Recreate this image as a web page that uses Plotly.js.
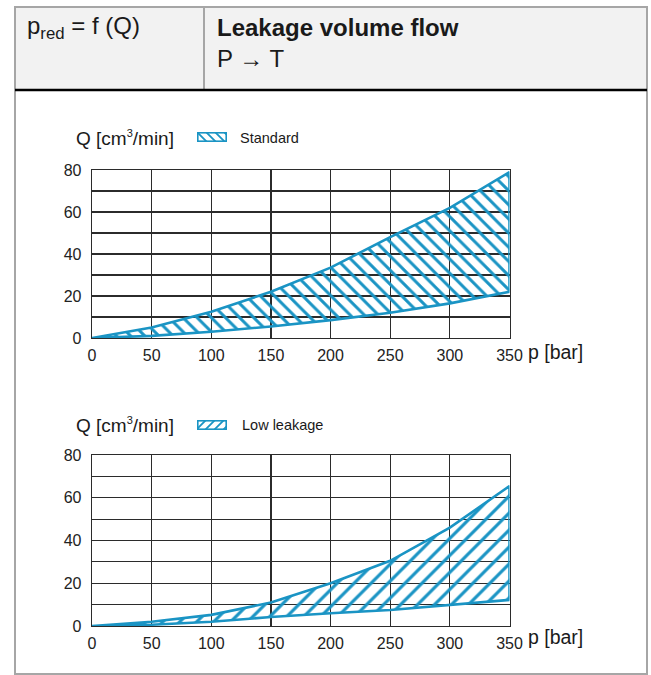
<!DOCTYPE html>
<html>
<head>
<meta charset="utf-8">
<script src="https://cdn.plot.ly/plotly-3.0.1.min.js"></script>
<style>html,body{margin:0;padding:0;background:#fff;}#chart{width:651px;height:675px;}</style>
</head>
<body>
<div id="chart"></div>
<script>
// ---- data ----
const pressure = [0, 50, 100, 150, 200, 250, 300, 350];          // p [bar]
const standardUpper = [0, 5, 12.5, 22, 33.5, 48, 62, 79];        // Q [cm3/min]
const standardLower = [0, 1, 3, 5.5, 8.5, 12, 16.5, 22];
const lowLeakUpper = [0, 2, 5.2, 11, 20, 30.5, 46, 65.5];
const lowLeakLower = [0, 0.6, 2, 4.2, 6, 7.5, 10, 12.2];
const xTickVals = [0, 50, 100, 150, 200, 250, 300, 350];
const yTickVals = [0, 20, 40, 60, 80];
const seriesNames = ['Standard', 'Low leakage'];

// ---- helpers ----
const W = 651, H = 675;
const X = px => px / W;
const Y = py => 1 - py / H;
const BLUE = '#1a94c4';
const FONT = 'Liberation Sans, Arial, sans-serif';

function band(upper, lower) {
  return {
    x: pressure.concat(pressure.slice().reverse()),
    y: upper.concat(lower.slice().reverse())
  };
}

const b1 = band(standardUpper, standardLower);
const b2 = band(lowLeakUpper, lowLeakLower);

const traces = [
  {
    type: 'scatter', mode: 'lines', name: seriesNames[0],
    x: b1.x, y: b1.y, xaxis: 'x', yaxis: 'y',
    fill: 'toself', fillcolor: 'rgba(0,0,0,0)',
    fillpattern: {shape: '\\', fgcolor: BLUE, bgcolor: 'rgba(0,0,0,0)', size: 10, solidity: 0.3},
    line: {color: BLUE, width: 2.6}, showlegend: false, hoverinfo: 'skip'
  },
  {
    type: 'scatter', mode: 'lines', name: seriesNames[1],
    x: b2.x, y: b2.y, xaxis: 'x2', yaxis: 'y2',
    fill: 'toself', fillcolor: 'rgba(0,0,0,0)',
    fillpattern: {shape: '/', fgcolor: BLUE, bgcolor: 'rgba(0,0,0,0)', size: 12, solidity: 0.26},
    line: {color: BLUE, width: 2.6}, showlegend: false, hoverinfo: 'skip'
  }
];

function xAxis(anchor) {
  return {
    domain: [X(92), X(509.5)], anchor: anchor, range: [0, 350],
    tickvals: xTickVals, ticktext: xTickVals.map(String),
    showgrid: true, gridcolor: '#2b2b2b', gridwidth: 1.2,
    showline: true, linecolor: '#2b2b2b', linewidth: 1.3, mirror: true,
    ticks: '', zeroline: false, automargin: false,
    tickfont: {family: FONT, size: 16, color: '#222'}, ticklabelstandoff: 2
  };
}
function yAxis(anchor, top, bottom) {
  return {
    domain: [Y(bottom), Y(top)], anchor: anchor, range: [0, 80],
    tickvals: yTickVals, ticktext: yTickVals.map(String),
    showgrid: true, gridcolor: '#2b2b2b', gridwidth: 1.2,
    minor: {dtick: 10, showgrid: true, gridcolor: '#2b2b2b', gridwidth: 1.2, ticks: ''},
    showline: true, linecolor: '#2b2b2b', linewidth: 1.3, mirror: true,
    ticks: '', zeroline: false, automargin: false,
    tickfont: {family: FONT, size: 16, color: '#222'}, ticklabelstandoff: 6
  };
}

function keySvg(dir) {
  const d = dir === '\\'
    ? 'M-9,-9 L18,18 M0,-9 L27,18 M9,-9 L36,18 M18,-9 L45,18 M27,-9 L54,18 M-18,-9 L9,18 M-27,-9 L0,18'
    : 'M-9,18 L18,-9 M0,18 L27,-9 M9,18 L36,-9 M18,18 L45,-9 M27,18 L54,-9 M36,18 L63,-9 M-18,18 L9,-9';
  const svg = "<svg xmlns='http://www.w3.org/2000/svg' width='30' height='10' viewBox='0 0 30 10'>" +
    "<defs><clipPath id='c'><rect x='1' y='1' width='28' height='8'/></clipPath></defs>" +
    "<g clip-path='url(#c)'><path d='" + d + "' stroke='" + BLUE + "' stroke-width='1.8' fill='none'/></g>" +
    "<rect x='0.8' y='0.8' width='28.4' height='8.4' fill='none' stroke='" + BLUE + "' stroke-width='1.6'/></svg>";
  return 'data:image/svg+xml;charset=utf-8,' + encodeURIComponent(svg);
}

const ann = (text, x, y, size, extra) => Object.assign({
  text: text, x: X(x), y: Y(y), xref: 'paper', yref: 'paper',
  xanchor: 'left', yanchor: 'middle', showarrow: false,
  font: {family: FONT, size: size, color: '#1a1a1a'}
}, extra || {});

const qLabel = 'Q [cm<sup><span style="font-size:11px">3</span></sup>/min]';

const layout = {
  width: W, height: H,
  margin: {l: 0, r: 0, t: 0, b: 0},
  paper_bgcolor: '#fff', plot_bgcolor: '#fff',
  showlegend: false,
  xaxis: xAxis('y'), yaxis: yAxis('x', 170, 338),
  xaxis2: xAxis('y2'), yaxis2: yAxis('x2', 455, 626),
  shapes: [
    {type: 'rect', xref: 'paper', yref: 'paper', x0: X(15), x1: X(647), y0: Y(7), y1: Y(90),
     fillcolor: '#f2f2f2', line: {width: 0}, layer: 'below'},
    {type: 'rect', xref: 'paper', yref: 'paper', x0: X(15), x1: X(647), y0: Y(7), y1: Y(674),
     fillcolor: 'rgba(0,0,0,0)', line: {color: '#a6a6a6', width: 2}},
    {type: 'line', xref: 'paper', yref: 'paper', x0: X(204), x1: X(204), y0: Y(7), y1: Y(89),
     line: {color: '#a6a6a6', width: 2}},
    {type: 'line', xref: 'paper', yref: 'paper', x0: X(15), x1: X(647), y0: Y(90), y1: Y(90),
     line: {color: '#000', width: 2.5}}
  ],
  images: [
    {source: keySvg('\\'), xref: 'paper', yref: 'paper', x: X(197), y: Y(132), sizex: 30 / W, sizey: 10 / H,
     xanchor: 'left', yanchor: 'top', sizing: 'stretch', layer: 'above'},
    {source: keySvg('/'), xref: 'paper', yref: 'paper', x: X(197), y: Y(420), sizex: 30 / W, sizey: 10 / H,
     xanchor: 'left', yanchor: 'top', sizing: 'stretch', layer: 'above'}
  ],
  annotations: [
    ann('p<sub>red</sub> = f (Q)', 25, 28, 24),
    ann('<b>Leakage volume flow</b>', 215, 27, 24),
    ann('P → T', 215, 59, 24),
    ann(qLabel, 74, 138, 19),
    ann(seriesNames[0], 238, 138, 14.5),
    ann('p [bar]', 526, 352, 19.5),
    ann(qLabel, 74, 425, 19),
    ann(seriesNames[1], 240, 425, 14.5),
    ann('p [bar]', 526, 637, 19.5)
  ]
};

Plotly.newPlot('chart', traces, layout, {displayModeBar: false, staticPlot: true});
</script>
</body>
</html>
